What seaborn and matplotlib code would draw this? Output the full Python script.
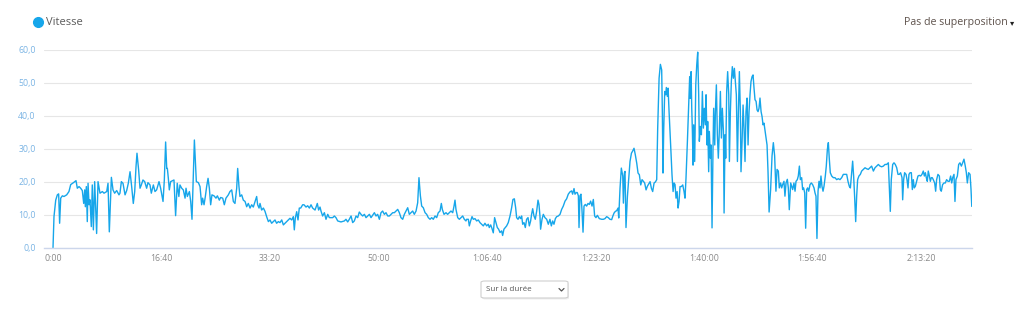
import numpy as np
import pandas as pd
import matplotlib
matplotlib.use("Agg")
import matplotlib.pyplot as plt
import seaborn as sns
from matplotlib.patches import FancyBboxPatch
from matplotlib.lines import Line2D

# elapsed time (s) and speed (km/h)
seconds = [
    0, 9, 25, 40, 52, 61, 71, 86, 101, 126, 147, 163, 193, 212, 224, 240, 255, 270, 283, 292,
    298, 307, 316, 323, 332, 341, 353, 362, 372, 384, 393, 402, 415, 433, 455, 470, 495, 507, 519, 538,
    553, 568, 587, 608, 617, 630, 645, 664, 679, 694, 710, 725, 740, 753, 765, 774, 789, 802, 814, 829,
    845, 863, 875, 894, 906, 925, 940, 955, 977, 992, 1014, 1026, 1038, 1048, 1054, 1063, 1072, 1084, 1115, 1130,
    1145, 1160,
    1170, 1186, 1201, 1217, 1226, 1238, 1257, 1269, 1281, 1293, 1303, 1312, 1321, 1340, 1355, 1370, 1379, 1392, 1404, 1416,
    1429, 1441, 1453, 1465, 1484, 1502, 1515, 1533, 1545, 1564, 1579, 1594, 1616, 1631, 1647, 1662, 1677, 1693, 1702, 1714,
    1723, 1739, 1754, 1770, 1785, 1800, 1816, 1831, 1846, 1862, 1877, 1886, 1899, 1908, 1923, 1939, 1954, 1969, 1985, 2000,
    2015, 2031, 2046, 2061, 2077, 2092, 2108, 2123, 2138, 2154, 2169, 2184, 2200, 2215, 2224, 2233, 2246, 2258, 2270, 2283,
    2301, 2313, 2332, 2347, 2363, 2378, 2393, 2415, 2436, 2448, 2461,
    2470, 2485, 2501, 2516, 2532, 2547, 2578, 2593, 2608, 2624, 2654, 2685, 2700, 2716, 2731, 2747, 2762, 2777, 2793, 2808,
    2823, 2839, 2854, 2870, 2885, 2900, 2916, 2931, 2946, 2962, 2977, 2992, 3008, 3023, 3038, 3054, 3069, 3085, 3100, 3115,
    3131, 3146, 3161, 3177, 3192, 3207, 3223, 3238, 3253, 3269, 3284, 3300, 3315, 3330, 3346, 3361, 3373, 3386, 3398, 3413,
    3429, 3444, 3459, 3475, 3490, 3505, 3521, 3536, 3551, 3567, 3579, 3588, 3604, 3622, 3637, 3653, 3668, 3684, 3696, 3705,
    3714, 3730, 3745, 3760, 3776, 3791, 3806,
    3812, 3828, 3837, 3849, 3862, 3874, 3889, 3905, 3920, 3935, 3951, 3966, 3981, 3997, 4012, 4021, 4034, 4046, 4058, 4070,
    4083, 4095, 4107, 4120, 4135, 4144, 4156, 4169, 4181, 4196, 4212, 4227, 4239, 4252, 4264, 4273, 4286, 4298, 4310, 4319,
    4329, 4341, 4353, 4365, 4378, 4390, 4402, 4411, 4421, 4433, 4445, 4458, 4470, 4479, 4488, 4494, 4507, 4519, 4534, 4550,
    4565, 4580, 4593, 4605, 4617, 4630, 4642, 4657, 4673, 4688, 4703, 4719, 4734, 4749, 4765, 4780, 4789, 4802, 4811, 4823,
    4832, 4842, 4848, 4857, 4866, 4875, 4885, 4894, 4906, 4918, 4931, 4943, 4955, 4968, 4980, 4992, 5004, 5017, 5035, 5057,
    5072, 5087, 5103, 5118, 5133,
    5149, 5159, 5171, 5183, 5195, 5208, 5214, 5226, 5238, 5251, 5257, 5266, 5272, 5281, 5294, 5306, 5318, 5331, 5343, 5355,
    5367, 5380, 5392, 5404, 5417, 5429, 5441, 5453, 5466, 5478, 5490, 5503, 5515, 5527, 5540, 5552, 5564, 5573, 5586, 5598,
    5610, 5616, 5622, 5629, 5638, 5647, 5653, 5662, 5669, 5678, 5687, 5696, 5705, 5715, 5724, 5733, 5742, 5752, 5761, 5770,
    5779, 5791, 5804, 5816, 5825, 5834, 5847, 5859, 5868, 5874, 5881, 5887, 5893, 5899, 5905, 5914, 5924, 5933, 5942, 5951,
    5957, 5967, 5976, 5985, 5994, 6003, 6013, 6019, 6028, 6034, 6043, 6049, 6059, 6065, 6074, 6083, 6089, 6099, 6105, 6114,
    6123, 6132, 6142, 6151, 6160, 6169, 6179, 6185, 6194, 6200, 6209, 6218, 6228, 6234, 6243, 6252, 6261, 6271, 6280, 6289,
    6298, 6308, 6317, 6326, 6335, 6341, 6351, 6360, 6369, 6378, 6387, 6397, 6406, 6415, 6424, 6433, 6443, 6452, 6461, 6470,
    6480, 6489, 6498, 6507, 6516, 6526, 6535, 6544, 6553, 6563, 6572, 6581, 6590, 6600,
    6614, 6627, 6639, 6651, 6663, 6673, 6685, 6694, 6706, 6716, 6725, 6737, 6746, 6756, 6768, 6777, 6786, 6799, 6808, 6817,
    6829, 6839, 6848, 6860, 6869, 6879, 6888, 6900, 6909, 6918, 6928, 6937, 6946, 6955, 6965, 6977, 6989, 7001, 7014, 7023,
    7032, 7041, 7051, 7060, 7069, 7078, 7087, 7097, 7106, 7118, 7127, 7137, 7146, 7155, 7164, 7177, 7192, 7207, 7223, 7238,
    7253, 7269, 7284, 7299, 7315, 7327, 7339, 7349, 7361, 7370, 7379, 7388, 7398, 7407, 7416, 7428, 7441, 7453, 7468, 7484,
    7499, 7514, 7530, 7545, 7561, 7576, 7591, 7607, 7622, 7637, 7653, 7668, 7683, 7699, 7708, 7717, 7726, 7739, 7751, 7763,
    7776, 7788, 7800, 7812, 7825, 7831, 7840, 7849, 7862, 7871, 7880, 7889, 7899, 7911, 7920, 7929, 7938, 7948, 7960, 7972,
    7984, 7997, 8009, 8021, 8031, 8040, 8049, 8058, 8067, 8077, 8086, 8095, 8104, 8113, 8126, 8135, 8144, 8156, 8169, 8178,
    8187, 8199, 8212, 8224, 8236, 8249, 8261, 8273, 8283, 8292, 8304, 8313, 8322, 8335, 8347, 8359, 8372, 8384, 8396, 8408,
    8418, 8427, 8439, 8452, 8461, 8468,
]
speed = [
    0.0, 9.4, 14.4, 16.0, 16.3, 7.4, 15.0, 15.7, 15.5, 16.0, 17.0, 19.1, 19.8, 20.3, 18.0, 18.5, 18.0, 17.3, 13.4, 17.5,
    12.4, 18.5, 7.9, 19.5, 13.0, 14.5, 6.4, 19.0, 5.4, 20.0, 12.4, 4.3, 20.0, 16.5, 17.0, 16.5, 17.0, 19.5, 4.8, 21.3,
    17.5, 16.5, 17.3, 16.0, 16.5, 20.0, 19.5, 16.0, 17.3, 19.5, 23.0, 18.5, 13.4, 17.0, 24.5, 28.6, 23.6, 18.0, 19.0, 20.5,
    20.0, 18.0, 19.7, 19.0, 16.5, 19.0, 17.0, 17.5, 20.0, 18.0, 14.0, 20.5, 32.0, 24.0, 24.0, 21.0, 17.5, 20.0, 20.5, 9.7,
    19.5, 15.5,
    19.0, 18.0, 17.5, 15.0, 18.0, 15.5, 17.0, 14.0, 8.6, 21.5, 32.6, 26.6, 20.0, 19.7, 18.5, 13.0, 15.0, 13.0, 15.5, 18.5,
    21.0, 18.0, 13.0, 16.0, 15.7, 15.0, 15.7, 14.4, 15.2, 15.0, 13.0, 15.0, 16.0, 17.0, 17.5, 14.0, 13.4, 18.0, 24.0, 18.5,
    15.5, 16.0, 14.4, 14.0, 12.4, 13.4, 12.0, 13.0, 12.3, 14.0, 15.5, 13.0, 12.0, 13.4, 11.4, 12.0, 11.0, 9.4, 7.9, 8.4,
    7.4, 7.9, 8.4, 7.4, 7.9, 7.6, 8.4, 6.9, 7.4, 7.9, 8.4, 8.9, 8.4, 9.4, 5.4, 8.9, 10.9, 8.4, 12.0, 12.0,
    13.0, 13.0, 12.3, 12.7, 12.0, 13.0, 12.0, 11.4, 13.4, 11.4, 12.3,
    11.1, 9.6, 10.6, 8.6, 10.1, 9.1, 9.1, 9.6, 9.1, 8.1, 7.8, 8.1, 8.6, 7.8, 8.6, 9.6, 7.6, 8.1, 9.6, 9.1,
    10.8, 10.1, 9.6, 10.1, 9.1, 9.6, 10.1, 9.1, 9.8, 10.6, 9.6, 10.1, 8.6, 10.6, 11.1, 10.1, 10.6, 9.6, 9.6, 10.1,
    10.6, 10.6, 11.1, 11.6, 10.6, 9.1, 8.6, 10.1, 11.1, 12.1, 10.1, 10.6, 11.1, 10.1, 11.1, 13.6, 21.2, 15.7, 12.6, 12.1,
    10.6, 10.1, 9.1, 8.6, 9.1, 8.6, 9.6, 9.1, 10.6, 11.1, 13.4, 11.6, 10.1, 10.6, 10.1, 10.6, 11.1, 10.6, 12.6, 14.4,
    11.6, 9.1, 8.6, 9.1, 9.6, 8.6, 8.1,
    8.6, 8.6, 6.6, 8.1, 9.4, 8.6, 8.8, 8.1, 8.4, 7.6, 7.1, 6.6, 7.4, 6.6, 7.1, 6.1, 6.9, 5.8, 4.5, 9.1,
    7.6, 6.1, 5.6, 4.6, 5.1, 3.7, 5.6, 6.1, 6.6, 7.6, 9.6, 12.1, 14.6, 14.8, 12.1, 9.1, 8.6, 9.4, 8.8, 9.6,
    7.1, 7.6, 6.1, 8.6, 9.1, 6.6, 8.1, 10.1, 11.8, 9.6, 8.6, 11.1, 14.4, 13.1, 9.6, 5.6, 8.6, 10.1, 9.1, 8.6,
    7.1, 8.6, 6.6, 8.1, 7.1, 8.8, 9.4, 9.6, 10.1, 11.6, 12.6, 14.1, 14.8, 16.2, 16.9, 17.2, 16.2, 17.9, 16.2, 16.7,
    16.7, 15.7, 6.1, 15.7, 16.2, 11.6, 4.7, 12.6, 13.1, 12.6, 13.4, 13.1, 14.1, 12.6, 14.6, 9.6, 9.1, 9.8, 8.8, 8.6,
    8.6, 8.8, 9.4, 9.1, 8.6,
    8.5, 9.5, 10.5, 11.0, 11.2, 12.0, 9.0, 18.0, 24.1, 21.7, 13.5, 22.6, 23.1, 6.1, 15.5, 21.0, 26.1, 28.6, 29.3, 30.1,
    28.1, 25.6, 22.6, 22.1, 19.0, 20.6, 20.1, 19.6, 17.5, 18.6, 19.3, 20.0, 18.0, 17.0, 19.6, 19.9, 20.6, 36.0, 51.3, 55.5,
    53.8, 41.0, 22.6, 36.3, 47.3, 46.3, 48.5, 45.8, 48.3, 41.2, 35.2, 28.6, 22.1, 17.0, 19.6, 19.1, 15.0, 17.0, 12.0, 14.0,
    18.5, 18.5, 19.0, 17.0, 15.0, 21.0, 32.2, 43.7, 51.8, 45.2, 53.3, 42.2, 35.2, 25.0, 37.2, 26.1, 49.3, 55.3, 59.2, 46.3,
    32.2, 36.7, 34.2, 47.3, 36.2, 42.2, 37.2, 46.3, 31.1, 38.2, 23.0, 35.2, 27.1, 31.1, 6.0, 30.1, 42.2, 31.1, 41.2, 49.3,
    34.2, 27.1, 36.2, 47.3, 33.2, 42.2, 35.2, 10.5, 34.2, 27.1, 47.3, 53.3, 46.3, 26.1, 41.2, 50.3, 54.8, 51.3, 54.3, 50.3,
    46.3, 26.1, 41.2, 53.3, 41.2, 23.0, 32.2, 43.2, 36.2, 26.1, 41.2, 45.3, 31.1, 41.2, 46.3, 50.3, 51.8, 52.3, 48.3, 44.8,
    44.3, 41.7, 41.2, 42.2, 45.3, 41.2, 39.7, 37.2, 37.7, 35.2, 33.2, 31.1, 23.0, 10.8,
    17.6, 27.8, 31.8, 27.8, 17.1, 23.7, 23.2, 18.1, 19.6, 18.1, 19.1, 20.1, 15.6, 19.6, 20.7, 18.1, 11.5, 19.6, 18.6, 17.6,
    19.6, 17.1, 20.1, 20.6, 21.7, 24.7, 20.6, 21.2, 17.6, 18.1, 16.6, 5.9, 17.6, 18.1, 17.1, 19.1, 19.6, 19.1, 18.1, 16.6,
    15.6, 2.8, 17.1, 20.1, 18.1, 21.7, 18.6, 17.1, 18.6, 21.7, 24.7, 29.8, 31.8, 26.8, 22.7, 21.7, 21.2, 21.2, 20.6, 20.9,
    20.6, 21.2, 22.2, 22.2, 22.2, 20.1, 18.6, 18.1, 22.7, 26.2, 21.7, 15.6, 7.9, 15.6, 20.6, 21.7, 22.2, 23.2, 23.7, 24.2,
    23.9, 23.7, 24.2, 24.7, 23.2, 24.2, 24.7, 25.2, 24.7, 24.5, 24.7, 25.2, 25.2, 25.7, 18.6, 11.0, 20.6, 25.2, 25.7, 25.2,
    24.2, 22.2, 22.2, 22.7, 21.2, 14.5, 20.6, 22.7, 22.2, 20.6, 18.1, 22.2, 22.7, 22.7, 17.6, 20.6, 18.1, 18.6, 20.1, 21.7,
    21.9, 21.7, 22.2, 23.2, 21.7, 22.7, 21.2, 20.1, 23.2, 21.7, 20.1, 21.2, 21.2, 20.6, 19.6, 17.1, 20.6, 22.2, 21.7, 17.6,
    17.1, 19.1, 19.6, 19.6, 20.6, 20.1, 20.1, 21.7, 19.6, 21.2, 22.2, 14.0, 20.6, 21.7, 25.2, 25.7, 24.7, 25.7, 26.8, 24.7,
    22.7, 19.6, 22.7, 22.2, 17.6, 12.5,
]

x_tick_seconds = [0, 1000, 2000, 3000, 4000, 5000, 6000, 7000, 8000]
x_tick_labels = ["0:00", "16:40", "33:20", "50:00", "1:06:40", "1:23:20", "1:40:00", "1:56:40", "2:13:20"]
y_ticks = [0, 10, 20, 30, 40, 50, 60]
y_tick_labels = ["0,0", "10,0", "20,0", "30,0", "40,0", "50,0", "60,0"]
series_name = "Vitesse"
overlay_label = "Pas de superposition"
range_label = "Sur la durée"

BLUE = "#16a6ea"
W, H = 1023, 315

sns.set_theme(style="white")
plt.rcParams['font.family'] = ['Open Sans', 'DejaVu Sans']

fig = plt.figure(figsize=(W / 100, H / 100), dpi=100)
ax = fig.add_axes([44 / W, 1 - 247.7 / H, (972 - 44) / W, (247.7 - 49.5) / H])

df = pd.DataFrame({"t": seconds, "v": speed})
sns.lineplot(data=df, x="t", y="v", ax=ax, color=BLUE, linewidth=1.0,
             estimator=None, sort=False, legend=False)

ax.set_xlim(-83, 8470)
ax.set_ylim(0, 60)
ax.set_yticks(y_ticks)
ax.set_yticklabels(y_tick_labels)
ax.set_xticks(x_tick_seconds)
ax.set_xticklabels(x_tick_labels)
ax.set_xlabel("")
ax.set_ylabel("")
ax.grid(axis="y", color="#e6e6e6", linewidth=0.8)
ax.grid(axis="x", visible=False)
ax.set_axisbelow(True)
ax.tick_params(axis="y", length=0, pad=6, labelsize=6.3, labelcolor="#7ab4e4")
ax.tick_params(axis="x", length=0, pad=4.5, labelsize=6.3, labelcolor="#8a8a8a")
for s in ["top", "right", "left"]:
    ax.spines[s].set_visible(False)
ax.spines["bottom"].set_color("#ccd6eb")
ax.spines["bottom"].set_linewidth(1.0)

# legend
fig.add_artist(Line2D([37.5 / W], [1 - 22 / H], marker="o", markersize=7, color=BLUE,
                      transform=fig.transFigure, linestyle="none"))
fig.text(45.5 / W, 1 - 22.5 / H, series_name, ha="left", va="center", fontsize=8.0, color="#5a5a5a")

# overlay selector
fig.text(1008 / W, 1 - 22.5 / H, overlay_label, ha="right", va="center", fontsize=7.7, color="#5e524c")
fig.text(1009.5 / W, 1 - 23 / H, "▾", ha="left", va="center", fontsize=6.0, color="#222222",
         family=["DejaVu Sans"])

# dropdown box
shadow = FancyBboxPatch((482 / W, 1 - 299.5 / H), 87 / W, 17 / H,
                        boxstyle="round,pad=0,rounding_size=0.004", transform=fig.transFigure,
                        facecolor="#eeeeee", edgecolor="none")
fig.add_artist(shadow)
box = FancyBboxPatch((481 / W, 1 - 298 / H), 87 / W, 17 / H,
                     boxstyle="round,pad=0,rounding_size=0.004", transform=fig.transFigure,
                     facecolor="white", edgecolor="#d0d0d0", linewidth=0.8)
fig.add_artist(box)
fig.text(486.5 / W, 1 - 289.5 / H, range_label, ha="left", va="center", fontsize=5.8, color="#555555")
fig.add_artist(Line2D([559 / W, 561.5 / W, 564 / W], [1 - 288.5 / H, 1 - 291 / H, 1 - 288.5 / H],
                      transform=fig.transFigure, color="#555555", linewidth=0.9))

fig.savefig("out.png", dpi=100)
